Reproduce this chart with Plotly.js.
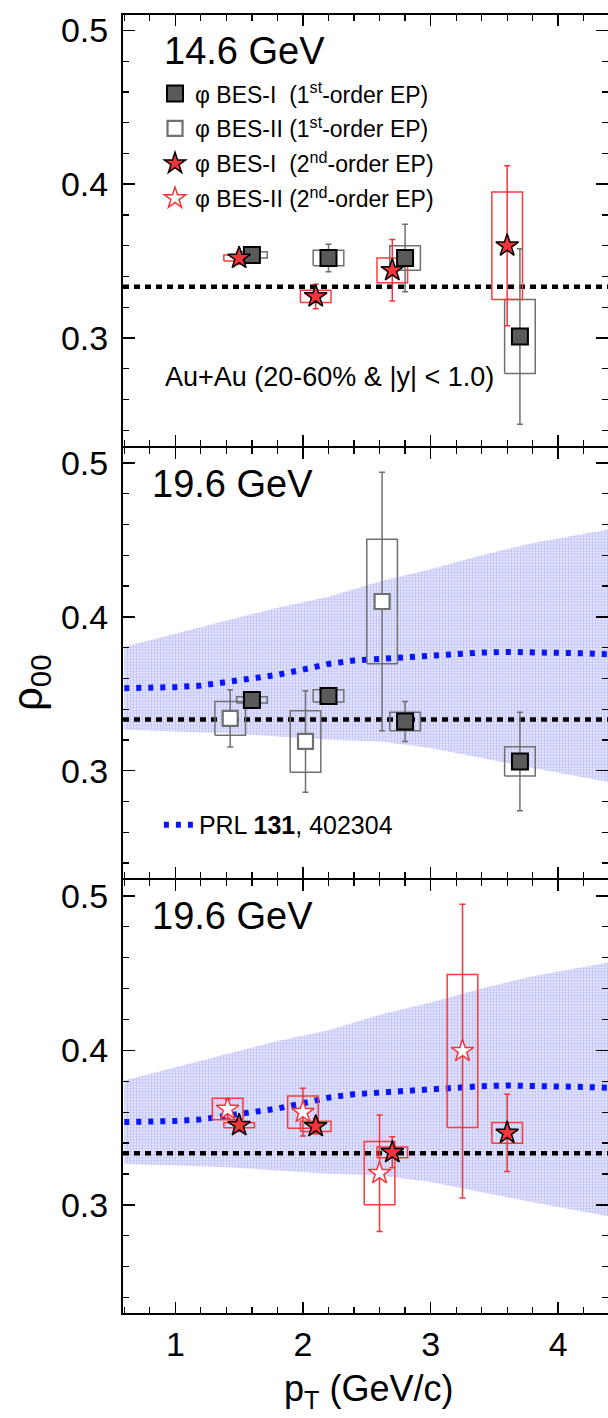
<!DOCTYPE html>
<html>
<head>
<meta charset="utf-8">
<script src="https://cdn.plot.ly/plotly-3.0.1.min.js"></script>
<style>html,body{margin:0;padding:0;background:#fff;}#chart{width:608px;height:1418px;}</style>
</head>
<body>
<div id="chart"></div>
<script>
// ---------------- data ----------------
// 14.6 GeV, BES-I, 1st-order EP
const PT_146_B1_EP1   = [1.6, 2.2, 2.8, 3.7];
const RHO_146_B1_EP1  = [0.354, 0.352, 0.352, 0.301];
const STAT_146_B1_EP1 = [0.003, 0.009, 0.022, 0.057];
const SYS_146_B1_EP1  = [0.002, 0.005, 0.008, 0.024];
// 14.6 GeV, BES-I, 2nd-order EP
const PT_146_B1_EP2   = [1.5, 2.1, 2.7, 3.6];
const RHO_146_B1_EP2  = [0.352, 0.327, 0.344, 0.360];
const STAT_146_B1_EP2 = [0.004, 0.008, 0.020, 0.052];
const SYS_146_B1_EP2  = [0.002, 0.004, 0.008, 0.035];
// 19.6 GeV, BES-I, 1st-order EP
const PT_196_B1_EP1   = [1.6, 2.2, 2.8, 3.7];
const RHO_196_B1_EP1  = [0.346, 0.3486, 0.332, 0.306];
const STAT_196_B1_EP1 = [0.003, 0.004, 0.013, 0.032];
const SYS_196_B1_EP1  = [0.002, 0.004, 0.006, 0.0095];
// 19.6 GeV, BES-II, 1st-order EP
const PT_196_B2_EP1   = [1.43, 2.02, 2.62];
const RHO_196_B2_EP1  = [0.334, 0.319, 0.410];
const STAT_196_B2_EP1 = [0.0186, 0.033, 0.084];
const SYS_196_B2_EP1  = [0.011, 0.020, 0.0405];
// 19.6 GeV, BES-I, 2nd-order EP
const PT_196_B1_EP2   = [1.5, 2.1, 2.7, 3.6];
const RHO_196_B1_EP2  = [0.3515, 0.3508, 0.334, 0.3465];
const STAT_196_B1_EP2 = [0.004, 0.005, 0.010, 0.025];
const SYS_196_B1_EP2  = [0.0016, 0.0033, 0.0035, 0.0067];
// 19.6 GeV, BES-II, 2nd-order EP
const PT_196_B2_EP2   = [1.41, 2.0, 2.6, 3.25];
const RHO_196_B2_EP2  = [0.362, 0.360, 0.3205, 0.3995];
const STAT_196_B2_EP2 = [0.006, 0.0155, 0.0377, 0.095];
const SYS_196_B2_EP2  = [0.007, 0.0105, 0.0205, 0.0495];
// PRL 131, 402304 (model), central curve and band
const MODEL_PT  = [0.6,0.8,1.0,1.2,1.4,1.6,1.8,2.0,2.2,2.4,2.6,2.8,3.0,3.2,3.4,3.6,3.8,4.0,4.2,4.4];
const MODEL_RHO = [0.3536,0.3536,0.3543,0.3553,0.3575,0.3599,0.3623,0.3657,0.3694,0.3716,0.3727,0.3740,0.3750,0.3761,0.3768,0.3772,0.3772,0.3770,0.3763,0.3757];
const BAND_PT   = [0.6, 1.0, 1.4, 1.8, 2.2, 2.6, 3.0, 3.4, 3.8, 4.4];
const BAND_HI   = [0.3805, 0.3890, 0.3980, 0.4060, 0.4130, 0.4230, 0.4310, 0.4400, 0.4480, 0.4570];
const BAND_LO   = [0.3266, 0.3255, 0.3244, 0.3222, 0.3201, 0.3190, 0.3147, 0.3082, 0.3017, 0.2925];
const RHO_REF = 1/3;
const PANEL_LABELS = ['14.6 GeV', '19.6 GeV', '19.6 GeV'];
const X_TICKS = [1, 2, 3, 4];
const Y_TICKS = [0.3, 0.4, 0.5];

// ---------------- styles ----------------
const XR = [0.59, 4.39];
const YR = [0.23, 0.51];
const HW = 0.12; // half width of systematic boxes
const FONT = 'Liberation Sans, Arial, Helvetica, sans-serif';
const GRAY_FILL = '#5a5a5a', GRAY_LINE = '#707070', RED = '#f2353a', RED_LINE = '#ff3a3a';
const DOM_SHIFT = 2 / 1298; // makes neighbouring frame lines coincide

function boxPath(pt, rho, sys) {
  const x = [], y = [];
  for (let i = 0; i < pt.length; i++) {
    x.push(pt[i]-HW, pt[i]+HW, pt[i]+HW, pt[i]-HW, pt[i]-HW, null);
    y.push(rho[i]-sys[i], rho[i]-sys[i], rho[i]+sys[i], rho[i]+sys[i], rho[i]-sys[i], null);
  }
  return {x, y};
}
function sysTrace(pt, rho, sys, color, ax) {
  const b = boxPath(pt, rho, sys);
  return {x: b.x, y: b.y, xaxis: ax[0], yaxis: ax[1], mode: 'lines', type: 'scatter',
    line: {color: color, width: 1.5}, showlegend: false, hoverinfo: 'skip'};
}
function ptsTrace(pt, rho, stat, style, ax, name, show, rank, grp) {
  return {x: pt, y: rho, xaxis: ax[0], yaxis: ax[1], type: 'scatter', mode: 'markers',
    name: name, showlegend: show, legendrank: rank, legendgroup: grp,
    marker: style.marker,
    error_y: {type: 'data', array: stat, visible: true, color: style.err, thickness: 1.5, width: 3}};
}
const S_SQ_FULL = {marker: {symbol: 'square', size: 16, color: GRAY_FILL, line: {color: '#000', width: 2}}, err: GRAY_LINE};
const S_SQ_OPEN = {marker: {symbol: 'square', size: 15, color: '#fff', line: {color: GRAY_LINE, width: 2.2}}, err: GRAY_LINE};
const S_ST_FULL = {marker: {symbol: 'star', size: 17, color: RED, line: {color: '#000', width: 1.5}}, err: RED};
const S_ST_OPEN = {marker: {symbol: 'star', size: 17, color: '#fff', line: {color: RED, width: 1.5}}, err: RED};

const N1 = 'φ BES-I&nbsp; (1<sup>st</sup>-order EP)';
const N2 = 'φ BES-II (1<sup>st</sup>-order EP)';
const N3 = 'φ BES-I&nbsp; (2<sup>nd</sup>-order EP)';
const N4 = 'φ BES-II (2<sup>nd</sup>-order EP)';

function bandTraces(ax, showLeg) {
  return [
    {x: BAND_PT, y: BAND_LO, xaxis: ax[0], yaxis: ax[1], mode: 'lines', line: {width: 0, color: 'rgba(0,0,0,0)'}, showlegend: false, hoverinfo: 'skip'},
    {x: BAND_PT, y: BAND_HI, xaxis: ax[0], yaxis: ax[1], mode: 'lines', line: {width: 0, color: 'rgba(0,0,0,0)'}, fill: 'tonexty',
      fillcolor: 'rgba(205,208,250,0.35)',
      fillpattern: {shape: '.', size: 3, solidity: 0.5, fgcolor: 'rgba(100,110,240,0.8)', bgcolor: 'rgba(215,218,252,0.3)', fillmode: 'overlay'},
      showlegend: false, hoverinfo: 'skip'},
    {x: MODEL_PT, y: MODEL_RHO, xaxis: ax[0], yaxis: ax[1], mode: 'lines', name: 'PRL <b>131</b>, 402304',
      legend: 'legend2', showlegend: showLeg,
      line: {color: '#0a14ff', width: 6, dash: '5px,7px'}}
  ];
}
function refLine(ax) {
  return {x: XR, y: [RHO_REF, RHO_REF], xaxis: ax[0], yaxis: ax[1], mode: 'lines', showlegend: false,
    line: {color: '#000', width: 4.5, dash: '6px,5px'}, hoverinfo: 'skip'};
}

const A1 = ['x', 'y'], A2 = ['x2', 'y2'], A3 = ['x3', 'y3'];
const traces = [
  // panel 1
  refLine(A1),
  sysTrace(PT_146_B1_EP1, RHO_146_B1_EP1, SYS_146_B1_EP1, GRAY_LINE, A1),
  sysTrace(PT_146_B1_EP2, RHO_146_B1_EP2, SYS_146_B1_EP2, RED_LINE, A1),
  ptsTrace(PT_146_B1_EP1, RHO_146_B1_EP1, STAT_146_B1_EP1, S_SQ_FULL, A1, N1, true, 1, 'g1'),
  ptsTrace(PT_146_B1_EP2, RHO_146_B1_EP2, STAT_146_B1_EP2, S_ST_FULL, A1, N3, true, 3, 'g3'),
  // panel 2
  ...bandTraces(A2, true),
  refLine(A2),
  sysTrace(PT_196_B2_EP1, RHO_196_B2_EP1, SYS_196_B2_EP1, GRAY_LINE, A2),
  sysTrace(PT_196_B1_EP1, RHO_196_B1_EP1, SYS_196_B1_EP1, GRAY_LINE, A2),
  ptsTrace(PT_196_B2_EP1, RHO_196_B2_EP1, STAT_196_B2_EP1, S_SQ_OPEN, A2, N2, true, 2, 'g2'),
  ptsTrace(PT_196_B1_EP1, RHO_196_B1_EP1, STAT_196_B1_EP1, S_SQ_FULL, A2, N1, false, 1, 'g1'),
  // panel 3
  ...bandTraces(A3, false),
  refLine(A3),
  sysTrace(PT_196_B2_EP2, RHO_196_B2_EP2, SYS_196_B2_EP2, RED_LINE, A3),
  sysTrace(PT_196_B1_EP2, RHO_196_B1_EP2, SYS_196_B1_EP2, RED_LINE, A3),
  ptsTrace(PT_196_B2_EP2, RHO_196_B2_EP2, STAT_196_B2_EP2, S_ST_OPEN, A3, N4, true, 4, 'g4'),
  ptsTrace(PT_196_B1_EP2, RHO_196_B1_EP2, STAT_196_B1_EP2, S_ST_FULL, A3, N3, false, 3, 'g3')
];

function xAx(anchor, labels) {
  return {anchor: anchor, range: XR, tickvals: X_TICKS, ticktext: X_TICKS.map(String), showticklabels: labels,
    ticks: 'inside', ticklen: 11, tickwidth: 1.5, tickcolor: '#000',
    minor: {dtick: 0.2, ticks: 'inside', ticklen: 6, tickwidth: 1.2, tickcolor: '#000'},
    showline: true, linewidth: 2, linecolor: '#000', mirror: 'allticks',
    showgrid: false, zeroline: false, tickfont: {family: FONT, size: 34, color: '#000'}, fixedrange: true};
}
function yAx(anchor, dom) {
  return {anchor: anchor, domain: dom, range: YR, tickvals: Y_TICKS, ticktext: Y_TICKS.map(v => v.toFixed(1)),
    ticks: 'inside', ticklen: 12, tickwidth: 1.5, tickcolor: '#000',
    minor: {dtick: 0.02, ticks: 'inside', ticklen: 6, tickwidth: 1.2, tickcolor: '#000'},
    showline: true, linewidth: 2, linecolor: '#000', mirror: 'allticks',
    showgrid: false, zeroline: false, tickfont: {family: FONT, size: 34, color: '#000'},
    ticklabelstandoff: 6, fixedrange: true};
}

const layout = {
  width: 608, height: 1418,
  margin: {l: 123, r: 0, t: 15, b: 105},
  paper_bgcolor: '#fff', plot_bgcolor: 'rgba(0,0,0,0)',
  font: {family: FONT, color: '#000'},
  xaxis: xAx('y', false), xaxis2: xAx('y2', false), xaxis3: xAx('y3', true),
  yaxis: yAx('x', [2/3 + DOM_SHIFT, 1]), yaxis2: yAx('x2', [1/3 + DOM_SHIFT, 2/3]), yaxis3: yAx('x3', [0, 1/3]),
  showlegend: true,
  legend: {x: 0.066, y: 0.956, xanchor: 'left', yanchor: 'top', bgcolor: 'rgba(0,0,0,0)',
    font: {family: FONT, size: 23, color: '#000'}, traceorder: 'grouped', tracegroupgap: 2, itemwidth: 30},
  legend2: {x: 0.074, y: 0.376, xanchor: 'left', yanchor: 'middle', bgcolor: 'rgba(0,0,0,0)',
    font: {family: FONT, size: 25, color: '#000'}},
  annotations: [
    {text: PANEL_LABELS[0], xref: 'paper', yref: 'paper', x: 0.08, y: 0.972, xanchor: 'left', yanchor: 'middle', showarrow: false, font: {family: FONT, size: 38}},
    {text: PANEL_LABELS[1], xref: 'paper', yref: 'paper', x: 0.056, y: 0.6387, xanchor: 'left', yanchor: 'middle', showarrow: false, font: {family: FONT, size: 38}},
    {text: PANEL_LABELS[2], xref: 'paper', yref: 'paper', x: 0.056, y: 0.3059, xanchor: 'left', yanchor: 'middle', showarrow: false, font: {family: FONT, size: 38}},
    {text: 'Au+Au (20-60% &amp; |y| &lt; 1.0)', xref: 'paper', yref: 'paper', x: 0.082, y: 0.7211, xanchor: 'left', yanchor: 'middle', showarrow: false, font: {family: FONT, size: 27}},
    {text: 'ρ<sub>00</sub>', xref: 'paper', yref: 'paper', x: -0.192, y: 0.486, xanchor: 'center', yanchor: 'middle', textangle: -90, showarrow: false, font: {family: FONT, size: 42}},
    {text: 'p<sub>T</sub> (GeV/c)', xref: 'paper', yref: 'paper', x: 0.507, y: -0.06, xanchor: 'center', yanchor: 'middle', showarrow: false, font: {family: FONT, size: 36}}
  ]
};

Plotly.newPlot('chart', traces, layout, {displayModeBar: false, staticPlot: true});
</script>
</body>
</html>
